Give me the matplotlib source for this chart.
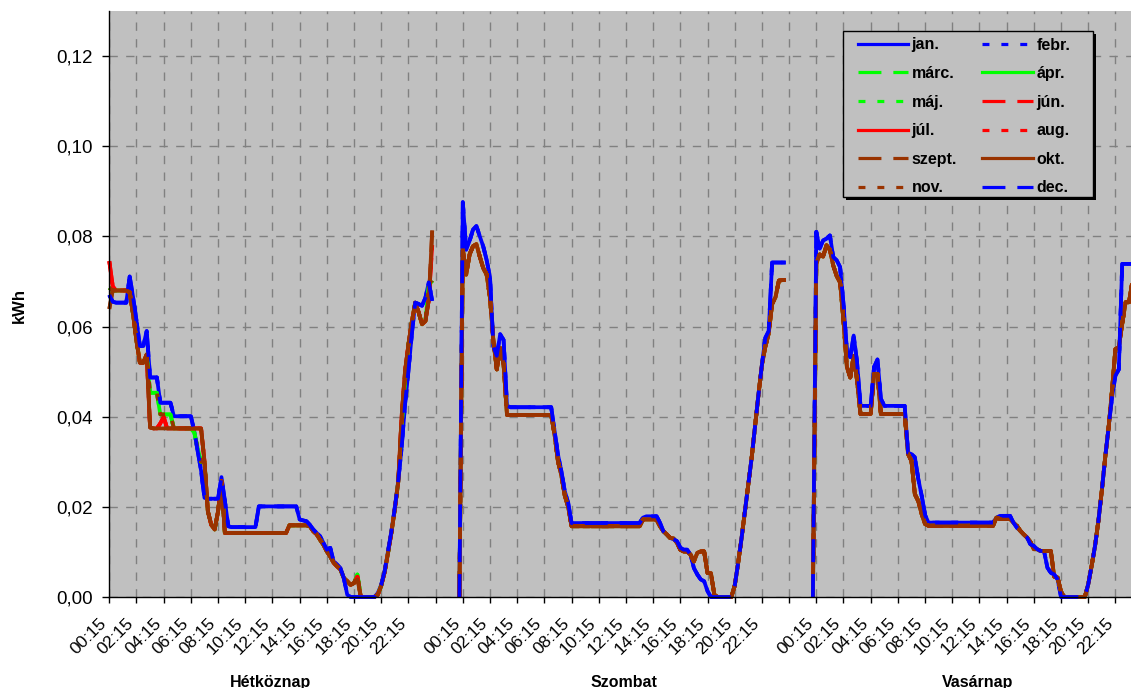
import numpy as np
import matplotlib
matplotlib.use("Agg")
import matplotlib.pyplot as plt
from matplotlib.lines import Line2D
from matplotlib.patches import Rectangle
from matplotlib.transforms import ScaledTranslation, blended_transform_factory

plt.rcParams['font.family'] = ['Liberation Sans', 'DejaVu Sans']
plt.rcParams['lines.scale_dashes'] = False

# ---------------- data ----------------
DAYS = ['Hétköznap', 'Szombat', 'Vasárnap']
MONTHS = ['jan.', 'febr.', 'márc.', 'ápr.', 'máj.', 'jún.', 'júl.', 'aug.',
          'szept.', 'okt.', 'nov.', 'dec.']
TIME_LABELS = ['00:15', '02:15', '04:15', '06:15', '08:15', '10:15',
               '12:15', '14:15', '16:15', '18:15', '20:15', '22:15']
Y_TICKS = [0.00, 0.02, 0.04, 0.06, 0.08, 0.10, 0.12]

# Hétköznap (weekday) profiles, 96 quarter-hours
WINTER_WD = [0.0670, 0.0655, 0.0653, 0.0653, 0.0653, 0.0653, 0.0711, 0.0665, 0.0613, 0.0557,
             0.0557, 0.0590, 0.0487, 0.0487, 0.0487, 0.0431, 0.0431, 0.0431, 0.0431, 0.0401,
             0.0401, 0.0401, 0.0401, 0.0401, 0.0401, 0.0368, 0.0324, 0.0280, 0.0220, 0.0218,
             0.0218, 0.0218, 0.0218, 0.0266, 0.0213, 0.0157, 0.0155, 0.0155, 0.0155, 0.0155,
             0.0155, 0.0155, 0.0155, 0.0155, 0.0201, 0.0201, 0.0201, 0.0201, 0.0201, 0.0201,
             0.0201, 0.0201, 0.0201, 0.0201, 0.0201, 0.0201, 0.0172, 0.0170, 0.0168, 0.0160,
             0.0150, 0.0142, 0.0135, 0.0120, 0.0105, 0.0109, 0.0079, 0.0072, 0.0064, 0.0042,
             0.0005, 0.0000, 0.0000, 0.0000, 0.0000, 0.0000, 0.0000, 0.0000, 0.0000, 0.0009,
             0.0027, 0.0057, 0.0101, 0.0146, 0.0198, 0.0257, 0.0331, 0.0427, 0.0501, 0.0583,
             0.0653, 0.0650, 0.0646, 0.0664, 0.0698, 0.0657]
AUTUMN_WD = [0.0639, 0.0680, 0.0680, 0.0680, 0.0680, 0.0680, 0.0676, 0.0627, 0.0568, 0.0520,
             0.0520, 0.0538, 0.0376, 0.0374, 0.0374, 0.0374, 0.0374, 0.0374, 0.0374, 0.0374,
             0.0374, 0.0374, 0.0374, 0.0374, 0.0374, 0.0374, 0.0374, 0.0374, 0.0301, 0.0190,
             0.0160, 0.0150, 0.0190, 0.0257, 0.0142, 0.0142, 0.0142, 0.0142, 0.0142, 0.0142,
             0.0142, 0.0142, 0.0142, 0.0142, 0.0142, 0.0142, 0.0142, 0.0142, 0.0142, 0.0142,
             0.0142, 0.0142, 0.0142, 0.0159, 0.0159, 0.0159, 0.0159, 0.0159, 0.0159, 0.0157,
             0.0146, 0.0139, 0.0127, 0.0116, 0.0101, 0.0090, 0.0076, 0.0068, 0.0061, 0.0042,
             0.0035, 0.0027, 0.0031, 0.0039, 0.0000, 0.0000, 0.0000, 0.0000, 0.0000, 0.0005,
             0.0025, 0.0055, 0.0098, 0.0143, 0.0195, 0.0255, 0.0400, 0.0500, 0.0560, 0.0610,
             0.0653, 0.0632, 0.0605, 0.0612, 0.0660, 0.0813]
MIDDLE_WD = [0.0686, 0.0680, 0.0680, 0.0680, 0.0680, 0.0680, 0.0676, 0.0627, 0.0568, 0.0520,
             0.0520, 0.0538, 0.0453, 0.0453, 0.0453, 0.0405, 0.0405, 0.0405, 0.0405, 0.0374,
             0.0374, 0.0374, 0.0374, 0.0374, 0.0374, 0.0365, 0.0330, 0.0300, 0.0300, 0.0190,
             0.0160, 0.0150, 0.0190, 0.0257, 0.0142, 0.0142, 0.0142, 0.0142, 0.0142, 0.0142,
             0.0142, 0.0142, 0.0142, 0.0142, 0.0142, 0.0142, 0.0142, 0.0142, 0.0142, 0.0142,
             0.0142, 0.0142, 0.0142, 0.0159, 0.0159, 0.0159, 0.0159, 0.0159, 0.0159, 0.0157,
             0.0146, 0.0139, 0.0127, 0.0116, 0.0101, 0.0090, 0.0076, 0.0068, 0.0061, 0.0042,
             0.0035, 0.0027, 0.0031, 0.0050, 0.0000, 0.0000, 0.0000, 0.0000, 0.0000, 0.0005,
             0.0025, 0.0055, 0.0098, 0.0143, 0.0195, 0.0255, 0.0380, 0.0480, 0.0560, 0.0610,
             0.0653, 0.0632, 0.0605, 0.0612, 0.0690, 0.0702]
SUMMER_WD = [0.0745, 0.0690, 0.0680, 0.0680, 0.0680, 0.0680, 0.0676, 0.0627, 0.0568, 0.0520,
             0.0520, 0.0538, 0.0376, 0.0374, 0.0374, 0.0385, 0.0400, 0.0374, 0.0374, 0.0374,
             0.0374, 0.0374, 0.0374, 0.0374, 0.0374, 0.0374, 0.0374, 0.0374, 0.0301, 0.0190,
             0.0160, 0.0150, 0.0190, 0.0257, 0.0142, 0.0142, 0.0142, 0.0142, 0.0142, 0.0142,
             0.0142, 0.0142, 0.0142, 0.0142, 0.0142, 0.0142, 0.0142, 0.0142, 0.0142, 0.0142,
             0.0142, 0.0142, 0.0142, 0.0159, 0.0159, 0.0159, 0.0159, 0.0159, 0.0159, 0.0157,
             0.0146, 0.0139, 0.0127, 0.0116, 0.0101, 0.0090, 0.0076, 0.0068, 0.0061, 0.0042,
             0.0035, 0.0027, 0.0031, 0.0045, 0.0000, 0.0000, 0.0000, 0.0000, 0.0000, 0.0005,
             0.0025, 0.0055, 0.0098, 0.0143, 0.0195, 0.0255, 0.0400, 0.0500, 0.0560, 0.0610,
             0.0653, 0.0632, 0.0605, 0.0612, 0.0660, 0.0780]

# Szombat (Saturday) profiles
WINTER_SAT = [0.0876, 0.0770, 0.0790, 0.0815, 0.0823, 0.0800, 0.0778, 0.0748, 0.0710, 0.0556,
              0.0535, 0.0583, 0.0570, 0.0424, 0.0421, 0.0421, 0.0421, 0.0421, 0.0421, 0.0421,
              0.0421, 0.0421, 0.0421, 0.0421, 0.0421, 0.0421, 0.0421, 0.0368, 0.0316, 0.0279,
              0.0235, 0.0209, 0.0164, 0.0164, 0.0164, 0.0164, 0.0164, 0.0164, 0.0164, 0.0164,
              0.0164, 0.0164, 0.0164, 0.0164, 0.0164, 0.0164, 0.0164, 0.0164, 0.0164, 0.0164,
              0.0164, 0.0164, 0.0164, 0.0176, 0.0179, 0.0179, 0.0179, 0.0179, 0.0165, 0.0146,
              0.0139, 0.0131, 0.0128, 0.0124, 0.0109, 0.0105, 0.0105, 0.0094, 0.0064, 0.0050,
              0.0039, 0.0035, 0.0013, 0.0000, 0.0000, 0.0000, 0.0000, 0.0000, 0.0000, 0.0000,
              0.0025, 0.0075, 0.0130, 0.0190, 0.0250, 0.0310, 0.0380, 0.0450, 0.0515, 0.0575,
              0.0590, 0.0742, 0.0742, 0.0742, 0.0742, 0.0742]
AUTUMN_SAT = [0.0772, 0.0715, 0.0760, 0.0778, 0.0783, 0.0755, 0.0730, 0.0716, 0.0664, 0.0568,
              0.0505, 0.0553, 0.0516, 0.0404, 0.0404, 0.0404, 0.0404, 0.0404, 0.0404, 0.0404,
              0.0404, 0.0404, 0.0404, 0.0404, 0.0404, 0.0404, 0.0404, 0.0360, 0.0301, 0.0270,
              0.0225, 0.0200, 0.0157, 0.0157, 0.0157, 0.0157, 0.0157, 0.0157, 0.0157, 0.0157,
              0.0157, 0.0157, 0.0157, 0.0157, 0.0157, 0.0157, 0.0157, 0.0157, 0.0157, 0.0157,
              0.0157, 0.0157, 0.0157, 0.0172, 0.0172, 0.0172, 0.0172, 0.0172, 0.0157, 0.0146,
              0.0139, 0.0131, 0.0130, 0.0120, 0.0105, 0.0101, 0.0101, 0.0094, 0.0079, 0.0098,
              0.0101, 0.0101, 0.0053, 0.0053, 0.0005, 0.0000, 0.0000, 0.0000, 0.0000, 0.0000,
              0.0025, 0.0075, 0.0130, 0.0190, 0.0250, 0.0310, 0.0380, 0.0450, 0.0515, 0.0555,
              0.0585, 0.0650, 0.0665, 0.0702, 0.0703, 0.0703]

# Vasárnap (Sunday) profiles
WINTER_SUN = [0.0810, 0.0773, 0.0791, 0.0795, 0.0802, 0.0754, 0.0747, 0.0732, 0.0650, 0.0547,
              0.0532, 0.0580, 0.0520, 0.0424, 0.0424, 0.0424, 0.0424, 0.0510, 0.0527, 0.0440,
              0.0424, 0.0424, 0.0424, 0.0424, 0.0424, 0.0424, 0.0424, 0.0320, 0.0317, 0.0310,
              0.0262, 0.0225, 0.0182, 0.0165, 0.0165, 0.0165, 0.0165, 0.0165, 0.0165, 0.0165,
              0.0165, 0.0165, 0.0165, 0.0165, 0.0165, 0.0165, 0.0165, 0.0165, 0.0165, 0.0165,
              0.0165, 0.0165, 0.0165, 0.0176, 0.0180, 0.0180, 0.0180, 0.0180, 0.0165, 0.0154,
              0.0147, 0.0139, 0.0132, 0.0117, 0.0113, 0.0106, 0.0102, 0.0102, 0.0065, 0.0054,
              0.0050, 0.0039, 0.0000, 0.0000, 0.0000, 0.0000, 0.0000, 0.0000, 0.0000, 0.0000,
              0.0028, 0.0069, 0.0113, 0.0169, 0.0236, 0.0310, 0.0376, 0.0443, 0.0491, 0.0505,
              0.0739, 0.0739, 0.0739, 0.0739, 0.0739, 0.0739]
AUTUMN_SUN = [0.0740, 0.0760, 0.0755, 0.0780, 0.0770, 0.0735, 0.0712, 0.0698, 0.0613, 0.0510,
              0.0487, 0.0535, 0.0480, 0.0406, 0.0406, 0.0406, 0.0406, 0.0495, 0.0495, 0.0406,
              0.0406, 0.0406, 0.0406, 0.0406, 0.0406, 0.0406, 0.0406, 0.0317, 0.0302, 0.0228,
              0.0213, 0.0184, 0.0162, 0.0158, 0.0158, 0.0158, 0.0158, 0.0158, 0.0158, 0.0158,
              0.0158, 0.0158, 0.0158, 0.0158, 0.0158, 0.0158, 0.0158, 0.0158, 0.0158, 0.0158,
              0.0158, 0.0158, 0.0158, 0.0176, 0.0173, 0.0173, 0.0173, 0.0173, 0.0165, 0.0158,
              0.0147, 0.0139, 0.0132, 0.0122, 0.0106, 0.0106, 0.0102, 0.0102, 0.0102, 0.0102,
              0.0045, 0.0043, 0.0012, 0.0000, 0.0000, 0.0000, 0.0000, 0.0000, 0.0000, 0.0000,
              0.0028, 0.0069, 0.0113, 0.0169, 0.0236, 0.0310, 0.0376, 0.0458, 0.0550, 0.0554,
              0.0606, 0.0654, 0.0654, 0.0700, 0.0700, 0.0700]

# profile used by each month on (Hétköznap, Szombat, Vasárnap)
MONTH_PROFILES = {
    'jan.':   (WINTER_WD, WINTER_SAT, WINTER_SUN),
    'febr.':  (WINTER_WD, WINTER_SAT, WINTER_SUN),
    'márc.':  (MIDDLE_WD, AUTUMN_SAT, AUTUMN_SUN),
    'ápr.':   (MIDDLE_WD, AUTUMN_SAT, AUTUMN_SUN),
    'máj.':   (MIDDLE_WD, AUTUMN_SAT, AUTUMN_SUN),
    'jún.':   (SUMMER_WD, AUTUMN_SAT, AUTUMN_SUN),
    'júl.':   (SUMMER_WD, AUTUMN_SAT, AUTUMN_SUN),
    'aug.':   (SUMMER_WD, AUTUMN_SAT, AUTUMN_SUN),
    'szept.': (AUTUMN_WD, AUTUMN_SAT, AUTUMN_SUN),
    'okt.':   (AUTUMN_WD, AUTUMN_SAT, AUTUMN_SUN),
    'nov.':   (MIDDLE_WD, AUTUMN_SAT, AUTUMN_SUN),
    'dec.':   (WINTER_WD, WINTER_SAT, WINTER_SUN),
}
DAY_START_VALUE = 0.0   # value of the point just before Szombat / Vasárnap

# ---------------- layout / style ----------------
W, H = 1131, 688
STEPS = 96
GAP = 8
DAY_STEP = STEPS + GAP
N = 2 * DAY_STEP + STEPS   # 304 category slots

BLUE, GREEN, RED, BROWN = '#0000FF', '#00FF00', '#FF0000', '#993300'
LW = 2.7
DASH = (0, (16.5, 8.6))
DOT = (0, (5.0, 8.6))
STYLE = {
    'jan.': (BLUE, '-'), 'febr.': (BLUE, DOT), 'márc.': (GREEN, DASH),
    'ápr.': (GREEN, '-'), 'máj.': (GREEN, DOT), 'jún.': (RED, DASH),
    'júl.': (RED, '-'), 'aug.': (RED, DOT), 'szept.': (BROWN, DASH),
    'okt.': (BROWN, '-'), 'nov.': (BROWN, DOT), 'dec.': (BLUE, DASH),
}

fig = plt.figure(figsize=(W / 100, H / 100), dpi=100)
x_left, x_right = 109.3, 1139.2
y_top, y_bot = 11, 597
ax = fig.add_axes([x_left / W, (H - y_bot) / H, (x_right - x_left) / W, (y_bot - y_top) / H])
ax.set_facecolor('#C0C0C0')

x_all = np.arange(N)
for m in MONTHS:
    y = np.full(N, np.nan)
    for d, prof in enumerate(MONTH_PROFILES[m]):
        y[d * DAY_STEP: d * DAY_STEP + STEPS] = prof
        if d > 0:
            y[d * DAY_STEP - 1] = DAY_START_VALUE
    col, ls = STYLE[m]
    ax.plot(x_all, y, color=col, linestyle=ls, lw=LW, clip_on=False,
            solid_joinstyle='round', dash_capstyle='butt', solid_capstyle='butt')

ax.set_xlim(0, N - 1)
ax.set_ylim(0, 0.13)

# ticks
xt = np.arange(0, N, 8)
xl = []
for t in xt:
    d, j = divmod(t, DAY_STEP)
    xl.append(TIME_LABELS[j // 8] if j < STEPS else '')
ax.set_xticks(xt)
ax.set_xticklabels(xl, rotation=45, ha='right', va='center', rotation_mode='anchor',
                   fontsize=12.5)
ax.tick_params(axis='x', length=4, width=1, pad=13, colors='black')
for lab in ax.get_xticklabels():
    lab.set_transform(lab.get_transform() + ScaledTranslation(-0.05, 0, fig.dpi_scale_trans))

ax.set_yticks(Y_TICKS)
ax.set_yticklabels([f"{v:.2f}".replace('.', ',') for v in Y_TICKS], fontsize=13.5)
ax.tick_params(axis='y', length=5, width=1, pad=7)

ax.grid(True, color='#808080', linestyle=(0, (6, 6)), linewidth=1)
ax.set_axisbelow(True)
for s in ['top', 'right']:
    ax.spines[s].set_visible(False)
for s in ['left', 'bottom']:
    ax.spines[s].set_color('black')
    ax.spines[s].set_linewidth(1)

# axis titles
fig.text(19 / W, 1 - 305.5 / H, 'kWh', rotation=90, ha='center', va='center',
         fontsize=12, fontweight='bold')
trans = blended_transform_factory(ax.transData, fig.transFigure)
for d, name in enumerate(DAYS):
    ax.text(d * DAY_STEP + (STEPS - 1) / 2, (H - 687) / H, name, transform=trans,
            ha='center', va='baseline', fontsize=11.5, fontweight='bold', clip_on=False)

# legend with own frame + shadow
lx0, ly0, lx1, ly1 = 842.7, 31, 1093, 196.7
shadow = Rectangle(((lx0 + 3) / W, (H - ly1 - 3) / H), (lx1 - lx0) / W, (ly1 - ly0) / H,
                   transform=fig.transFigure, facecolor='black', edgecolor='none', zorder=3)
frame = Rectangle((lx0 / W, (H - ly1) / H), (lx1 - lx0) / W, (ly1 - ly0) / H,
                  transform=fig.transFigure, facecolor='#C0C0C0', edgecolor='black',
                  linewidth=1, zorder=4)
fig.add_artist(shadow)
fig.add_artist(frame)
order = ['jan.', 'márc.', 'máj.', 'júl.', 'szept.', 'nov.',
         'febr.', 'ápr.', 'jún.', 'aug.', 'okt.', 'dec.']
leg_handles = [Line2D([], [], color=STYLE[m][0], linestyle=STYLE[m][1], lw=2.3,
                      dash_capstyle='butt') for m in order]
leg = fig.legend(leg_handles, order, loc='upper left',
                 bbox_to_anchor=(857.7 / W, 1 - 37.5 / H), bbox_transform=fig.transFigure,
                 ncol=2, frameon=False, borderpad=0, borderaxespad=0,
                 prop={'weight': 'bold', 'size': 11.5}, handlelength=3.17,
                 handletextpad=0.2, columnspacing=1.6, labelspacing=0.85)
leg.set_zorder(5)

fig.savefig('out.png', dpi=100)
